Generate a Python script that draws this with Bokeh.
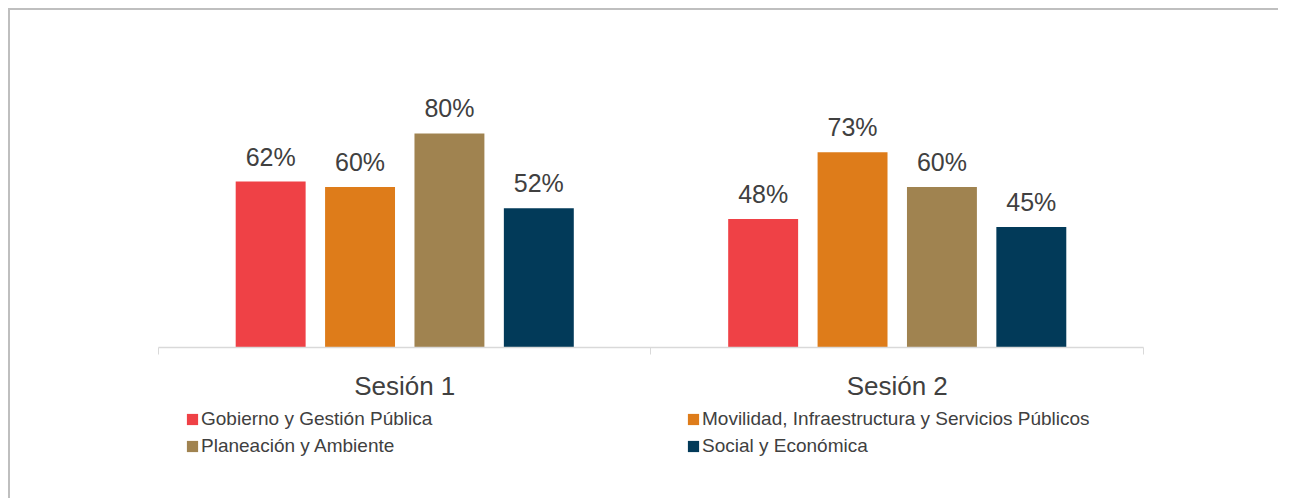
from bokeh.plotting import figure
from bokeh.models import (ColumnDataSource, Range1d, FixedTicker, LabelSet,
                          Legend, LegendItem, LinearAxis)
from bokeh.core.properties import value
from bokeh.transform import dodge
from bokeh.embed import file_html
from bokeh.resources import INLINE

# ---- data ----
sessions = ["Sesión 1", "Sesión 2"]
series_names = ["Gobierno y Gestión Pública",
                "Movilidad, Infraestructura y Servicios Públicos",
                "Planeación y Ambiente",
                "Social y Económica"]
gobierno = [62, 48]
movilidad = [60, 73]
planeacion = [80, 60]
social = [52, 45]
colors = ["#EF4146", "#DE7C1A", "#A08350", "#023A59"]

series_values = [gobierno, movilidad, planeacion, social]

FONT = "Liberation Sans"
TEXT = "#404040"

n = len(sessions)
p = figure(width=1270, height=490, output_backend="svg", toolbar_location=None,
           x_range=Range1d(-0.3005, 2.2782), y_range=Range1d(-57.18, 125.95),
           x_axis_location=None, y_axis_location=None,
           min_border=0,
           background_fill_color="white", border_fill_color="white",
           outline_line_color=None,
           styles={"margin-left": "8px", "margin-top": "8px",
                   "border-left": "2px solid #bfbfbf",
                   "border-top": "2px solid #bfbfbf"})

p.xgrid.visible = False
p.ygrid.visible = False

centers = [i + 0.5 for i in range(n)]
step = 0.1815
bar_w = 0.142

renderers = []
for j, (name, vals, col) in enumerate(zip(series_names, series_values, colors)):
    src = ColumnDataSource(dict(x=centers, v=vals, lab=[f"{v}%" for v in vals]))
    off = (j - 1.5) * step
    r = p.vbar(x=dodge("x", off, range=p.x_range), top="v", width=bar_w,
               bottom=0, source=src, fill_color=col, line_color=None)
    renderers.append(r)
    labels = LabelSet(x=dodge("x", off, range=p.x_range), y="v", text="lab",
                      source=src, text_align="center", text_baseline="alphabetic",
                      y_offset=16, text_font=value(FONT), text_font_size="25px",
                      text_color=TEXT)
    p.add_layout(labels)

ax = LinearAxis(fixed_location=0, bounds=(0, n))
ax.ticker = FixedTicker(ticks=centers, minor_ticks=list(range(n + 1)))
ax.major_label_overrides = {c: s for c, s in zip(centers, sessions)}
ax.axis_line_color = "#D9D9D9"
ax.axis_line_width = 1.5
ax.major_tick_line_color = None
ax.major_tick_out = 7
ax.major_tick_in = 0
ax.minor_tick_line_color = "#D9D9D9"
ax.minor_tick_out = 7
ax.minor_tick_in = 0
ax.major_label_standoff = 16
ax.major_label_text_font = FONT
ax.major_label_text_font_size = "26px"
ax.major_label_text_color = TEXT
p.add_layout(ax, "below")

legend = Legend(items=[LegendItem(label=nm, renderers=[r]) for nm, r in zip(series_names, renderers)],
                orientation="horizontal", ncols=2, location=(175, 43),
                label_text_font=FONT, label_text_font_size="19px",
                label_text_color=TEXT, glyph_width=14, glyph_height=14,
                label_standoff=2, label_width=480, spacing=5,
                padding=0, margin=0, border_line_color=None,
                background_fill_alpha=0)
p.add_layout(legend)

open("out.html", "w").write(file_html(p, INLINE))
